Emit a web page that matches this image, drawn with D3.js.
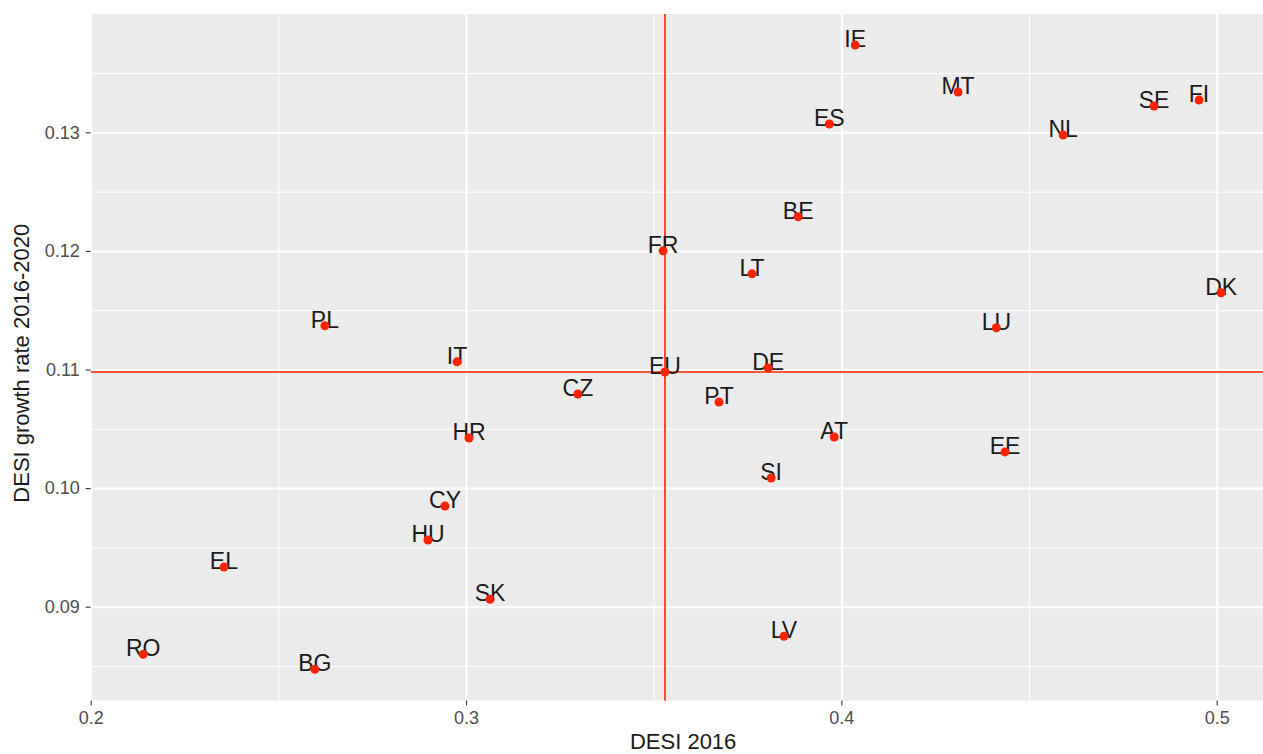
<!DOCTYPE html>
<html>
<head>
<meta charset="utf-8">
<script src="https://cdn.jsdelivr.net/npm/d3@7"></script>
<style>
  body { margin: 0; background: #fff; }
  svg { display: block; font-family: "Liberation Sans", Arial, sans-serif; }
  .axis path { display: none; }
  .axis line { stroke: #333; stroke-width: 1.1; }
  .axis text { fill: #4d4d4d; font-size: 18px; }
  .grid path { display: none; }
  .grid line { stroke: #fff; }
</style>
</head>
<body>
<svg id="chart"></svg>
<script>
const countries = ["IE", "MT", "SE", "FI", "ES", "NL", "BE", "FR", "LT", "DK", "LU", "PL", "IT", "EU", "DE",
    "CZ", "PT", "AT", "EE", "HR", "SI", "CY", "HU", "EL", "SK", "LV", "RO", "BG"];
const desi2016 = [0.4037, 0.4311, 0.4833, 0.4953, 0.3968, 0.4591, 0.3885, 0.3525, 0.3762, 0.5012, 0.4413, 0.2624,
    0.2976, 0.3530, 0.3805, 0.3298, 0.3674, 0.3981, 0.4436, 0.3008, 0.3813, 0.2944, 0.2899, 0.2355, 0.3064,
    0.3847, 0.2140, 0.2597];
const growth = [0.13736, 0.13340, 0.13222, 0.13272, 0.13070, 0.12977, 0.12288, 0.12001, 0.11807, 0.11647, 0.11352,
    0.11369, 0.11065, 0.10979, 0.11013, 0.10794, 0.10726, 0.10431, 0.10305, 0.10422, 0.10085, 0.09849, 0.09562,
    0.09334, 0.09062, 0.08750, 0.08598, 0.08472];
const xTicks = [0.2, 0.3, 0.4, 0.5];
const yTicks = [0.09, 0.10, 0.11, 0.12, 0.13];
const xMinor = [0.25, 0.35, 0.45];
const yMinor = [0.085, 0.095, 0.105, 0.115, 0.125, 0.135];
const meanX = 0.3530;
const meanY = 0.10979;

const W = 1263, H = 754;
const panel = { left: 90.7, top: 14, right: 1275.6, bottom: 700.5 };
const red = "#ff2400";

const svg = d3.select("#chart").attr("width", W).attr("height", H);

const x = d3.scaleLinear().domain([0.2, 0.5157]).range([panel.left, panel.right]);
const y = d3.scaleLinear().domain([0.08209, 0.13998]).range([panel.bottom, panel.top]);

svg.append("rect")
    .attr("x", panel.left).attr("y", panel.top)
    .attr("width", panel.right - panel.left).attr("height", panel.bottom - panel.top)
    .attr("fill", "#ebebeb");

const data = countries.map((c, i) => ({ name: c, x: desi2016[i], y: growth[i] }));

// minor grid
svg.append("g").attr("class", "grid")
    .attr("transform", `translate(0,${panel.bottom})`)
    .call(d3.axisBottom(x).tickValues(xMinor).tickSize(-(panel.bottom - panel.top)).tickFormat(""))
    .selectAll("line").attr("stroke-width", 1);
svg.append("g").attr("class", "grid")
    .attr("transform", `translate(${panel.left},0)`)
    .call(d3.axisLeft(y).tickValues(yMinor).tickSize(-(panel.right - panel.left)).tickFormat(""))
    .selectAll("line").attr("stroke-width", 1);

// major grid
svg.append("g").attr("class", "grid")
    .attr("transform", `translate(0,${panel.bottom})`)
    .call(d3.axisBottom(x).tickValues(xTicks).tickSize(-(panel.bottom - panel.top)).tickFormat(""))
    .selectAll("line").attr("stroke-width", 2);
svg.append("g").attr("class", "grid")
    .attr("transform", `translate(${panel.left},0)`)
    .call(d3.axisLeft(y).tickValues(yTicks).tickSize(-(panel.right - panel.left)).tickFormat(""))
    .selectAll("line").attr("stroke-width", 2);

// axes
svg.append("g").attr("class", "axis")
    .attr("transform", `translate(0,${panel.bottom})`)
    .call(d3.axisBottom(x).tickValues(xTicks).tickSize(5).tickPadding(6).tickFormat(d3.format("")));
svg.append("g").attr("class", "axis")
    .attr("transform", `translate(${panel.left},0)`)
    .call(d3.axisLeft(y).tickValues(yTicks).tickSize(5).tickPadding(6).tickFormat(d3.format(".2f")));

// mean lines
svg.append("line")
    .attr("x1", x(meanX)).attr("x2", x(meanX))
    .attr("y1", panel.top).attr("y2", panel.bottom)
    .attr("stroke", red).attr("stroke-width", 1.6);
svg.append("line")
    .attr("x1", panel.left).attr("x2", panel.right)
    .attr("y1", y(meanY)).attr("y2", y(meanY))
    .attr("stroke", red).attr("stroke-width", 1.6);

// labels
svg.append("g").selectAll("text")
    .data(data).join("text")
    .attr("x", d => x(d.x))
    .attr("y", d => y(d.y) + 2)
    .attr("text-anchor", "middle")
    .attr("font-size", 23)
    .attr("fill", "#1a1a1a")
    .text(d => d.name);

// points
svg.append("g").selectAll("circle")
    .data(data).join("circle")
    .attr("cx", d => x(d.x))
    .attr("cy", d => y(d.y))
    .attr("r", 4.5)
    .attr("fill", red);

// axis titles
svg.append("text")
    .attr("x", (panel.left + panel.right) / 2)
    .attr("y", 749)
    .attr("text-anchor", "middle")
    .attr("font-size", 22)
    .attr("fill", "#1a1a1a")
    .text("DESI 2016");

svg.append("text")
    .attr("transform", `translate(29,${(panel.top + panel.bottom) / 2 + 6}) rotate(-90)`)
    .attr("text-anchor", "middle")
    .attr("font-size", 22)
    .attr("fill", "#1a1a1a")
    .text("DESI growth rate 2016-2020");
</script>
</body>
</html>
